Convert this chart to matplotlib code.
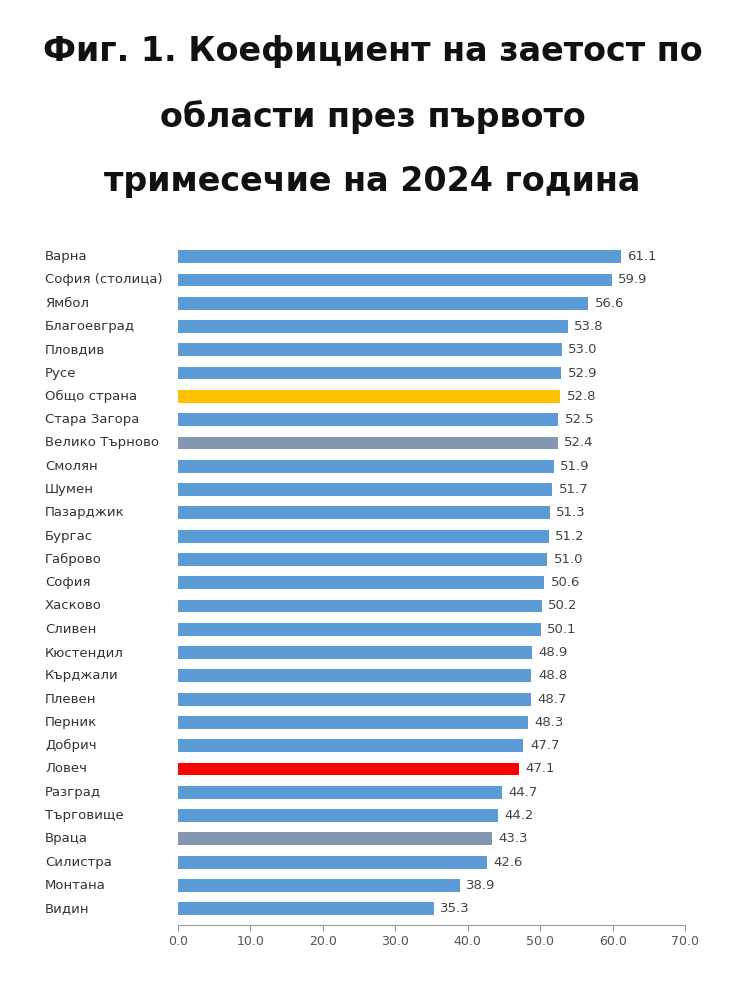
import matplotlib
matplotlib.use("Agg")
import matplotlib.pyplot as plt
from matplotlib.transforms import blended_transform_factory

regions = ["Варна","София (столица)","Ямбол","Благоевград","Пловдив","Русе","Общо страна",
           "Стара Загора","Велико Търново","Смолян","Шумен","Пазарджик","Бургас","Габрово",
           "София","Хасково","Сливен","Кюстендил","Кърджали","Плевен","Перник","Добрич",
           "Ловеч","Разград","Търговище","Враца","Силистра","Монтана","Видин"]
values = [61.1,59.9,56.6,53.8,53.0,52.9,52.8,52.5,52.4,51.9,51.7,51.3,51.2,51.0,50.6,50.2,
          50.1,48.9,48.8,48.7,48.3,47.7,47.1,44.7,44.2,43.3,42.6,38.9,35.3]
special = {"Общо страна": "#ffc000", "Велико Търново": "#8497b0",
           "Ловеч": "#ff0000", "Враца": "#8497b0"}
ticks = [0, 10, 20, 30, 40, 50, 60, 70]

W, H = 745, 1000
fig = plt.figure(figsize=(W/100, H/100), dpi=100)
ax = fig.add_axes([178/W, 1-925/H, (685-178)/W, (925-245)/H])
y = list(range(len(regions)))
colors = [special.get(r, "#5b9bd5") for r in regions]
ax.barh(y, values, height=0.55, color=colors)
ax.set_ylim(len(regions)-0.3, -0.5)
ax.set_xlim(0, 70)
ax.set_xticks(ticks)
ax.set_xticklabels([f"{t:.1f}" for t in ticks], fontsize=9, color="#555555")
ax.set_yticks([])
for s in ["top", "right", "left"]:
    ax.spines[s].set_visible(False)
ax.spines["bottom"].set_color("#999999")
ax.tick_params(axis="x", colors="#999999", labelcolor="#555555", length=4)
for yi, v in zip(y, values):
    ax.text(v + 0.9, yi, f"{v:.1f}", va="center", ha="left", fontsize=9.5, color="#444444")
tr = blended_transform_factory(fig.transFigure, ax.transData)
for yi, r in zip(y, regions):
    ax.text(45/W, yi, r, transform=tr, va="center", ha="left", fontsize=9.5, color="#333333")

title_lines = ["Фиг. 1. Коефициент на заетост по", "области през първото",
               "тримесечие на 2024 година"]
for i, t in enumerate(title_lines):
    fig.text(0.5, 1-(52+65*i)/H, t, ha="center", va="center", fontsize=24,
             fontweight="heavy", color="#111111")
fig.savefig("out.png", dpi=100)
